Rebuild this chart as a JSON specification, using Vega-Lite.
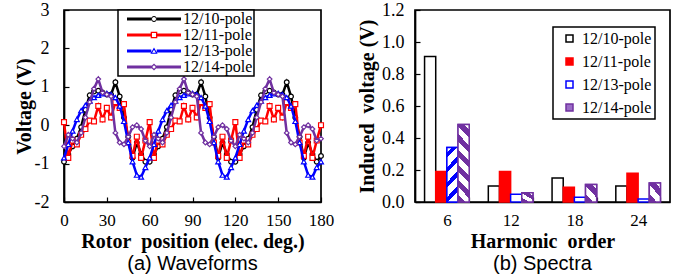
{
  "$schema": "https://vega.github.io/schema/vega-lite/v6.json",
  "padding": {"left": 13, "top": 0, "right": 0, "bottom": 0},
  "background": "white",
  "spacing": 94,
  "bounds": "flush",
  "config": {
    "view": {"stroke": "black", "strokeWidth": 1.7},
    "axis": {"domainColor": "black", "domainWidth": 1.7, "tickColor": "black", "tickWidth": 1.2, "tickSize": -5, "labelFlush": false,
      "labelFont": "Liberation Serif", "labelFontSize": 18, "labelColor": "black",
      "titleFont": "Liberation Serif", "titleFontSize": 20, "titleFontWeight": "bold", "titleColor": "black", "grid": false},
    "axisX": {"labelFontSize": 17},
    "title": {"font": "Liberation Sans", "fontSize": 20, "fontWeight": "normal", "color": "black", "orient": "bottom", "offset": 3, "anchor": "middle"},
    "legend": {"labelFont": "Liberation Serif", "labelFontSize": 16, "labelColor": "black", "strokeColor": "black", "fillColor": "white", "title": null}
  },
  "datasets": {
    "wave": [
      {"d":0,"v":-0.95,"s":"12/10-pole"},{"d":3,"v":-0.75,"s":"12/10-pole"},{"d":6,"v":-0.55,"s":"12/10-pole"},{"d":9,"v":-0.35,"s":"12/10-pole"},{"d":12,"v":-0.05,"s":"12/10-pole"},{"d":15,"v":0.4,"s":"12/10-pole"},{"d":18,"v":0.78,"s":"12/10-pole"},{"d":21,"v":0.88,"s":"12/10-pole"},{"d":24,"v":0.9,"s":"12/10-pole"},{"d":27,"v":0.85,"s":"12/10-pole"},{"d":30,"v":0.8,"s":"12/10-pole"},{"d":33,"v":0.8,"s":"12/10-pole"},{"d":36,"v":1.12,"s":"12/10-pole"},{"d":39,"v":0.75,"s":"12/10-pole"},{"d":42,"v":0.2,"s":"12/10-pole"},{"d":45,"v":-0.3,"s":"12/10-pole"},{"d":48,"v":-0.85,"s":"12/10-pole"},{"d":51,"v":-0.45,"s":"12/10-pole"},{"d":54,"v":-0.75,"s":"12/10-pole"},{"d":57,"v":-0.95,"s":"12/10-pole"},
      {"d":60,"v":-0.95,"s":"12/10-pole"},{"d":63,"v":-0.75,"s":"12/10-pole"},{"d":66,"v":-0.55,"s":"12/10-pole"},{"d":69,"v":-0.35,"s":"12/10-pole"},{"d":72,"v":-0.05,"s":"12/10-pole"},{"d":75,"v":0.4,"s":"12/10-pole"},{"d":78,"v":0.78,"s":"12/10-pole"},{"d":81,"v":0.88,"s":"12/10-pole"},{"d":84,"v":0.9,"s":"12/10-pole"},{"d":87,"v":0.85,"s":"12/10-pole"},{"d":90,"v":0.8,"s":"12/10-pole"},{"d":93,"v":0.8,"s":"12/10-pole"},{"d":96,"v":1.12,"s":"12/10-pole"},{"d":99,"v":0.75,"s":"12/10-pole"},{"d":102,"v":0.2,"s":"12/10-pole"},{"d":105,"v":-0.3,"s":"12/10-pole"},{"d":108,"v":-0.85,"s":"12/10-pole"},{"d":111,"v":-0.45,"s":"12/10-pole"},{"d":114,"v":-0.75,"s":"12/10-pole"},{"d":117,"v":-0.95,"s":"12/10-pole"},
      {"d":120,"v":-0.95,"s":"12/10-pole"},{"d":123,"v":-0.75,"s":"12/10-pole"},{"d":126,"v":-0.55,"s":"12/10-pole"},{"d":129,"v":-0.35,"s":"12/10-pole"},{"d":132,"v":-0.05,"s":"12/10-pole"},{"d":135,"v":0.4,"s":"12/10-pole"},{"d":138,"v":0.78,"s":"12/10-pole"},{"d":141,"v":0.88,"s":"12/10-pole"},{"d":144,"v":0.9,"s":"12/10-pole"},{"d":147,"v":0.85,"s":"12/10-pole"},{"d":150,"v":0.8,"s":"12/10-pole"},{"d":153,"v":0.8,"s":"12/10-pole"},{"d":156,"v":1.12,"s":"12/10-pole"},{"d":159,"v":0.75,"s":"12/10-pole"},{"d":162,"v":0.2,"s":"12/10-pole"},{"d":165,"v":-0.3,"s":"12/10-pole"},{"d":168,"v":-0.85,"s":"12/10-pole"},{"d":171,"v":-0.45,"s":"12/10-pole"},{"d":174,"v":-0.75,"s":"12/10-pole"},{"d":177,"v":-0.95,"s":"12/10-pole"},{"d":180,"v":-0.8,"s":"12/10-pole"},

      {"d":0,"v":0.08,"s":"12/11-pole"},{"d":3,"v":-0.85,"s":"12/11-pole"},{"d":6,"v":-0.4,"s":"12/11-pole"},{"d":9,"v":-0.5,"s":"12/11-pole"},{"d":12,"v":-0.25,"s":"12/11-pole"},{"d":15,"v":-0.1,"s":"12/11-pole"},{"d":18,"v":0.12,"s":"12/11-pole"},{"d":21,"v":0.1,"s":"12/11-pole"},{"d":24,"v":0.5,"s":"12/11-pole"},{"d":27,"v":0.15,"s":"12/11-pole"},{"d":30,"v":0.45,"s":"12/11-pole"},{"d":33,"v":0.2,"s":"12/11-pole"},{"d":36,"v":0.6,"s":"12/11-pole"},{"d":39,"v":0.45,"s":"12/11-pole"},{"d":42,"v":0.55,"s":"12/11-pole"},{"d":45,"v":-0.45,"s":"12/11-pole"},{"d":48,"v":-0.8,"s":"12/11-pole"},{"d":51,"v":-0.3,"s":"12/11-pole"},{"d":54,"v":-0.85,"s":"12/11-pole"},{"d":57,"v":-0.4,"s":"12/11-pole"},
      {"d":60,"v":0.08,"s":"12/11-pole"},{"d":63,"v":-0.85,"s":"12/11-pole"},{"d":66,"v":-0.4,"s":"12/11-pole"},{"d":69,"v":-0.5,"s":"12/11-pole"},{"d":72,"v":-0.25,"s":"12/11-pole"},{"d":75,"v":-0.1,"s":"12/11-pole"},{"d":78,"v":0.12,"s":"12/11-pole"},{"d":81,"v":0.1,"s":"12/11-pole"},{"d":84,"v":0.5,"s":"12/11-pole"},{"d":87,"v":0.15,"s":"12/11-pole"},{"d":90,"v":0.45,"s":"12/11-pole"},{"d":93,"v":0.2,"s":"12/11-pole"},{"d":96,"v":0.6,"s":"12/11-pole"},{"d":99,"v":0.45,"s":"12/11-pole"},{"d":102,"v":0.55,"s":"12/11-pole"},{"d":105,"v":-0.45,"s":"12/11-pole"},{"d":108,"v":-0.8,"s":"12/11-pole"},{"d":111,"v":-0.3,"s":"12/11-pole"},{"d":114,"v":-0.85,"s":"12/11-pole"},{"d":117,"v":-0.4,"s":"12/11-pole"},
      {"d":120,"v":0.08,"s":"12/11-pole"},{"d":123,"v":-0.85,"s":"12/11-pole"},{"d":126,"v":-0.4,"s":"12/11-pole"},{"d":129,"v":-0.5,"s":"12/11-pole"},{"d":132,"v":-0.25,"s":"12/11-pole"},{"d":135,"v":-0.1,"s":"12/11-pole"},{"d":138,"v":0.12,"s":"12/11-pole"},{"d":141,"v":0.1,"s":"12/11-pole"},{"d":144,"v":0.5,"s":"12/11-pole"},{"d":147,"v":0.15,"s":"12/11-pole"},{"d":150,"v":0.45,"s":"12/11-pole"},{"d":153,"v":0.2,"s":"12/11-pole"},{"d":156,"v":0.6,"s":"12/11-pole"},{"d":159,"v":0.45,"s":"12/11-pole"},{"d":162,"v":0.55,"s":"12/11-pole"},{"d":165,"v":-0.45,"s":"12/11-pole"},{"d":168,"v":-0.8,"s":"12/11-pole"},{"d":171,"v":-0.3,"s":"12/11-pole"},{"d":174,"v":-0.85,"s":"12/11-pole"},{"d":177,"v":-0.4,"s":"12/11-pole"},{"d":180,"v":0.0,"s":"12/11-pole"},

      {"d":0,"v":-0.85,"s":"12/13-pole"},{"d":3,"v":-0.5,"s":"12/13-pole"},{"d":6,"v":-0.15,"s":"12/13-pole"},{"d":9,"v":0.15,"s":"12/13-pole"},{"d":12,"v":0.38,"s":"12/13-pole"},{"d":15,"v":0.52,"s":"12/13-pole"},{"d":18,"v":0.63,"s":"12/13-pole"},{"d":21,"v":0.72,"s":"12/13-pole"},{"d":24,"v":0.78,"s":"12/13-pole"},{"d":27,"v":0.82,"s":"12/13-pole"},{"d":30,"v":0.83,"s":"12/13-pole"},{"d":33,"v":0.8,"s":"12/13-pole"},{"d":36,"v":0.72,"s":"12/13-pole"},{"d":39,"v":0.5,"s":"12/13-pole"},{"d":42,"v":0.1,"s":"12/13-pole"},{"d":45,"v":-0.45,"s":"12/13-pole"},{"d":48,"v":-0.95,"s":"12/13-pole"},{"d":51,"v":-1.3,"s":"12/13-pole"},{"d":54,"v":-1.35,"s":"12/13-pole"},{"d":57,"v":-1.1,"s":"12/13-pole"},
      {"d":60,"v":-0.85,"s":"12/13-pole"},{"d":63,"v":-0.5,"s":"12/13-pole"},{"d":66,"v":-0.15,"s":"12/13-pole"},{"d":69,"v":0.15,"s":"12/13-pole"},{"d":72,"v":0.38,"s":"12/13-pole"},{"d":75,"v":0.52,"s":"12/13-pole"},{"d":78,"v":0.63,"s":"12/13-pole"},{"d":81,"v":0.72,"s":"12/13-pole"},{"d":84,"v":0.78,"s":"12/13-pole"},{"d":87,"v":0.82,"s":"12/13-pole"},{"d":90,"v":0.83,"s":"12/13-pole"},{"d":93,"v":0.8,"s":"12/13-pole"},{"d":96,"v":0.72,"s":"12/13-pole"},{"d":99,"v":0.5,"s":"12/13-pole"},{"d":102,"v":0.1,"s":"12/13-pole"},{"d":105,"v":-0.45,"s":"12/13-pole"},{"d":108,"v":-0.95,"s":"12/13-pole"},{"d":111,"v":-1.3,"s":"12/13-pole"},{"d":114,"v":-1.35,"s":"12/13-pole"},{"d":117,"v":-1.1,"s":"12/13-pole"},
      {"d":120,"v":-0.85,"s":"12/13-pole"},{"d":123,"v":-0.5,"s":"12/13-pole"},{"d":126,"v":-0.15,"s":"12/13-pole"},{"d":129,"v":0.15,"s":"12/13-pole"},{"d":132,"v":0.38,"s":"12/13-pole"},{"d":135,"v":0.52,"s":"12/13-pole"},{"d":138,"v":0.63,"s":"12/13-pole"},{"d":141,"v":0.72,"s":"12/13-pole"},{"d":144,"v":0.78,"s":"12/13-pole"},{"d":147,"v":0.82,"s":"12/13-pole"},{"d":150,"v":0.83,"s":"12/13-pole"},{"d":153,"v":0.8,"s":"12/13-pole"},{"d":156,"v":0.72,"s":"12/13-pole"},{"d":159,"v":0.5,"s":"12/13-pole"},{"d":162,"v":0.1,"s":"12/13-pole"},{"d":165,"v":-0.45,"s":"12/13-pole"},{"d":168,"v":-0.95,"s":"12/13-pole"},{"d":171,"v":-1.3,"s":"12/13-pole"},{"d":174,"v":-1.35,"s":"12/13-pole"},{"d":177,"v":-1.1,"s":"12/13-pole"},{"d":180,"v":-0.95,"s":"12/13-pole"},

      {"d":0,"v":-0.55,"s":"12/14-pole"},{"d":3,"v":-0.25,"s":"12/14-pole"},{"d":6,"v":-0.35,"s":"12/14-pole"},{"d":9,"v":-0.45,"s":"12/14-pole"},{"d":12,"v":-0.2,"s":"12/14-pole"},{"d":15,"v":0.2,"s":"12/14-pole"},{"d":18,"v":0.6,"s":"12/14-pole"},{"d":21,"v":0.95,"s":"12/14-pole"},{"d":24,"v":1.2,"s":"12/14-pole"},{"d":27,"v":0.85,"s":"12/14-pole"},{"d":30,"v":0.8,"s":"12/14-pole"},{"d":33,"v":0.75,"s":"12/14-pole"},{"d":36,"v":-0.2,"s":"12/14-pole"},{"d":39,"v":-0.45,"s":"12/14-pole"},{"d":42,"v":-0.5,"s":"12/14-pole"},{"d":45,"v":-0.3,"s":"12/14-pole"},{"d":48,"v":-0.05,"s":"12/14-pole"},{"d":51,"v":0.0,"s":"12/14-pole"},{"d":54,"v":-0.1,"s":"12/14-pole"},{"d":57,"v":-0.4,"s":"12/14-pole"},
      {"d":60,"v":-0.55,"s":"12/14-pole"},{"d":63,"v":-0.25,"s":"12/14-pole"},{"d":66,"v":-0.35,"s":"12/14-pole"},{"d":69,"v":-0.45,"s":"12/14-pole"},{"d":72,"v":-0.2,"s":"12/14-pole"},{"d":75,"v":0.2,"s":"12/14-pole"},{"d":78,"v":0.6,"s":"12/14-pole"},{"d":81,"v":0.95,"s":"12/14-pole"},{"d":84,"v":1.2,"s":"12/14-pole"},{"d":87,"v":0.85,"s":"12/14-pole"},{"d":90,"v":0.8,"s":"12/14-pole"},{"d":93,"v":0.75,"s":"12/14-pole"},{"d":96,"v":-0.2,"s":"12/14-pole"},{"d":99,"v":-0.45,"s":"12/14-pole"},{"d":102,"v":-0.5,"s":"12/14-pole"},{"d":105,"v":-0.3,"s":"12/14-pole"},{"d":108,"v":-0.05,"s":"12/14-pole"},{"d":111,"v":0.0,"s":"12/14-pole"},{"d":114,"v":-0.1,"s":"12/14-pole"},{"d":117,"v":-0.4,"s":"12/14-pole"},
      {"d":120,"v":-0.55,"s":"12/14-pole"},{"d":123,"v":-0.25,"s":"12/14-pole"},{"d":126,"v":-0.35,"s":"12/14-pole"},{"d":129,"v":-0.45,"s":"12/14-pole"},{"d":132,"v":-0.2,"s":"12/14-pole"},{"d":135,"v":0.2,"s":"12/14-pole"},{"d":138,"v":0.6,"s":"12/14-pole"},{"d":141,"v":0.95,"s":"12/14-pole"},{"d":144,"v":1.2,"s":"12/14-pole"},{"d":147,"v":0.85,"s":"12/14-pole"},{"d":150,"v":0.8,"s":"12/14-pole"},{"d":153,"v":0.75,"s":"12/14-pole"},{"d":156,"v":-0.2,"s":"12/14-pole"},{"d":159,"v":-0.45,"s":"12/14-pole"},{"d":162,"v":-0.5,"s":"12/14-pole"},{"d":165,"v":-0.3,"s":"12/14-pole"},{"d":168,"v":-0.05,"s":"12/14-pole"},{"d":171,"v":0.0,"s":"12/14-pole"},{"d":174,"v":-0.1,"s":"12/14-pole"},{"d":177,"v":-0.4,"s":"12/14-pole"},{"d":180,"v":-0.35,"s":"12/14-pole"}
    ],
    "spec": [
      {"h":6,"s":"12/10-pole","v":0.91},{"h":6,"s":"12/11-pole","v":0.19},{"h":6,"s":"12/13-pole","v":0.34},{"h":6,"s":"12/14-pole","v":0.485},
      {"h":12,"s":"12/10-pole","v":0.10},{"h":12,"s":"12/11-pole","v":0.19},{"h":12,"s":"12/13-pole","v":0.048},{"h":12,"s":"12/14-pole","v":0.058},
      {"h":18,"s":"12/10-pole","v":0.15},{"h":18,"s":"12/11-pole","v":0.092},{"h":18,"s":"12/13-pole","v":0.029},{"h":18,"s":"12/14-pole","v":0.11},
      {"h":24,"s":"12/10-pole","v":0.10},{"h":24,"s":"12/11-pole","v":0.18},{"h":24,"s":"12/13-pole","v":0.019},{"h":24,"s":"12/14-pole","v":0.119}
    ]
  },
  "resolve": {
    "scale": {"color": "independent", "shape": "independent", "fill": "independent", "stroke": "independent"},
    "legend": {"color": "independent", "shape": "independent", "fill": "independent", "stroke": "independent"}
  },
  "hconcat": [
    {
      "width": 257, "height": 192,
      "title": {"text": "(a) Waveforms"},
      "data": {"name": "wave"},
      "encoding": {
        "x": {"field": "d", "type": "quantitative", "scale": {"domain": [0, 180], "nice": false},
          "axis": {"values": [0, 30, 60, 90, 120, 150, 180], "title": "Rotor\u00a0 position (elec. deg.)", "labelPadding": 15, "titlePadding": 3}},
        "y": {"field": "v", "type": "quantitative", "scale": {"domain": [-2, 3], "nice": false},
          "axis": {"values": [-2, -1, 0, 1, 2, 3], "labelExpr": "'' + datum.value", "title": "Voltage (V)", "labelPadding": 20, "titlePadding": 0}}
      },
      "layer": [
        {"transform": [{"filter": "datum.s == '12/10-pole'"}],
         "mark": {"type": "line", "strokeWidth": 2.5, "color": "#000000", "point": {"shape": "circle", "filled": false, "fill": "white", "stroke": "#000000", "size": 22, "strokeWidth": 1.2}},
         "encoding": {}},
        {"transform": [{"filter": "datum.s == '12/11-pole'"}],
         "mark": {"type": "line", "strokeWidth": 2.5, "color": "#ff0000", "point": {"shape": "square", "filled": false, "fill": "white", "stroke": "#ff0000", "size": 24, "strokeWidth": 1.2}},
         "encoding": {}},
        {"transform": [{"filter": "datum.s == '12/13-pole'"}],
         "mark": {"type": "line", "strokeWidth": 2.5, "color": "#0000ff", "point": {"shape": "triangle-up", "filled": false, "fill": "white", "stroke": "#0000ff", "size": 24, "strokeWidth": 1.2}},
         "encoding": {}},
        {"transform": [{"filter": "datum.s == '12/14-pole'"}],
         "mark": {"type": "line", "strokeWidth": 2.5, "color": "#7030a0", "point": {"shape": "diamond", "filled": false, "fill": "white", "stroke": "#7030a0", "size": 22, "strokeWidth": 1.2}},
         "encoding": {}},
        {"mark": {"type": "point", "filled": true, "opacity": 0},
         "encoding": {
           "color": {"field": "s", "type": "nominal",
             "scale": {"domain": ["12/10-pole", "12/11-pole", "12/13-pole", "12/14-pole"], "range": ["#000000", "#ff0000", "#0000ff", "#7030a0"]},
             "legend": {"orient": "none", "legendX": 54, "legendY": 0, "padding": 1, "rowPadding": -0.5, "symbolSize": 144, "symbolStrokeWidth": 0, "symbolOffset": 27, "labelOffset": 21, "labelExpr": "datum.label + '\u00a0\u00a0'", "symbolOpacity": 1,
               "encode": {"symbols": {"update": {"opacity": {"value": 1}}}, "legend": {"update": {"strokeWidth": {"value": 1.5}}}}}},
           "shape": {"field": "s", "type": "nominal",
             "scale": {"domain": ["12/10-pole", "12/11-pole", "12/13-pole", "12/14-pole"],
               "range": [
                 "M-4.5,-0.25H-0.5V0.25H-4.5Z M0.5,-0.25H4.5V0.25H0.5Z M0.5,0A0.5,0.5,0,1,1,-0.5,0A0.5,0.5,0,1,1,0.5,0Z M0.33,0A0.33,0.33,0,1,0,-0.33,0A0.33,0.33,0,1,0,0.33,0Z",
                 "M-4.5,-0.25H-0.55V0.25H-4.5Z M0.55,-0.25H4.5V0.25H0.55Z M-0.55,-0.55H0.55V0.55H-0.55Z M-0.33,-0.33V0.33H0.33V-0.33Z",
                 "M-4.5,-0.25H-0.45V0.25H-4.5Z M0.45,-0.25H4.5V0.25H0.45Z M0,-0.6L0.6,0.45H-0.6Z M0,-0.22L-0.3,0.3H0.3Z",
                 "M-4.5,-0.25H-0.4V0.25H-4.5Z M0.4,-0.25H4.5V0.25H0.4Z M0,-0.6L0.6,0L0,0.6L-0.6,0Z M0,-0.3L-0.3,0L0,0.3L0.3,0Z"
               ]},
             "legend": {"orient": "none", "legendX": 54, "legendY": 0, "padding": 1, "rowPadding": -0.5, "symbolSize": 144, "symbolStrokeWidth": 0, "symbolOffset": 27, "labelOffset": 21, "labelExpr": "datum.label + '\u00a0\u00a0'", "symbolOpacity": 1,
               "encode": {"symbols": {"update": {"opacity": {"value": 1}}}, "legend": {"update": {"strokeWidth": {"value": 1.5}}}}}}
         }}
      ]
    },
    {
      "width": 255, "height": 192,
      "title": {"text": "(b) Spectra"},
      "data": {"name": "spec"},
      "encoding": {
        "x": {"field": "h", "type": "ordinal", "scale": {"paddingInner": 0.3, "paddingOuter": 0.15},
          "axis": {"labelAngle": 0, "tickBand": "extent", "title": "Harmonic\u00a0 order", "labelPadding": 15, "titlePadding": 3}},
        "xOffset": {"field": "s", "type": "nominal", "scale": {"domain": ["12/10-pole", "12/11-pole", "12/13-pole", "12/14-pole"]}},
        "y": {"field": "v", "type": "quantitative", "scale": {"domain": [0, 1.2], "nice": false},
          "axis": {"values": [0, 0.2, 0.4, 0.6, 0.8, 1.0, 1.2], "format": ".1f", "title": "Induced\u00a0 voltage (V)", "labelPadding": 16, "titlePadding": 4}}
      },
      "layer": [
        {"mark": {"type": "bar", "strokeWidth": 1.5},
         "encoding": {
           "fill": {"field": "s", "type": "nominal",
             "scale": {"domain": ["12/10-pole", "12/11-pole", "12/13-pole", "12/14-pole"], "range": ["#ffffff", "#ff0000", "#ffffff", "#9a6cc6"]},
             "legend": {"orient": "none", "legendX": 138, "legendY": 17, "padding": 3.5, "rowPadding": 7, "symbolType": "square", "symbolSize": 49, "symbolStrokeWidth": 1.5, "symbolOffset": 5, "labelOffset": 4.5, "labelExpr": "datum.label + '\u00a0\u00a0\u00a0\u00a0\u00a0'",
               "encode": {"legend": {"update": {"strokeWidth": {"value": 1.5}}}}}},
           "stroke": {"field": "s", "type": "nominal",
             "scale": {"domain": ["12/10-pole", "12/11-pole", "12/13-pole", "12/14-pole"], "range": ["#000000", "#ff0000", "#0000ff", "#7030a0"]},
             "legend": {"orient": "none", "legendX": 138, "legendY": 17, "padding": 3.5, "rowPadding": 7, "symbolType": "square", "symbolSize": 49, "symbolStrokeWidth": 1.5, "symbolOffset": 5, "labelOffset": 4.5, "labelExpr": "datum.label + '\u00a0\u00a0\u00a0\u00a0\u00a0'",
               "encode": {"legend": {"update": {"strokeWidth": {"value": 1.5}}}}}}
         }},
        {"transform": [{"filter": "datum.s == '12/13-pole' && datum.h == 6"}],
         "mark": {"type": "bar", "strokeWidth": 1.5, "stroke": "#0000ff",
           "fill": {"gradient": "linear", "x1": 0, "y1": 0, "x2": 0.2405, "y2": 1.158, "stops": [
             {"offset": 0, "color": "#ffffff"}, {"offset": 0.07, "color": "#ffffff"}, {"offset": 0.07, "color": "#0000ff"}, {"offset": 0.16, "color": "#0000ff"},
             {"offset": 0.16, "color": "#ffffff"}, {"offset": 0.298, "color": "#ffffff"}, {"offset": 0.298, "color": "#0000ff"}, {"offset": 0.388, "color": "#0000ff"},
             {"offset": 0.388, "color": "#ffffff"}, {"offset": 0.526, "color": "#ffffff"}, {"offset": 0.526, "color": "#0000ff"}, {"offset": 0.616, "color": "#0000ff"},
             {"offset": 0.616, "color": "#ffffff"}, {"offset": 0.754, "color": "#ffffff"}, {"offset": 0.754, "color": "#0000ff"}, {"offset": 0.844, "color": "#0000ff"},
             {"offset": 0.844, "color": "#ffffff"}, {"offset": 0.982, "color": "#ffffff"}, {"offset": 0.982, "color": "#0000ff"}, {"offset": 1, "color": "#0000ff"}]}},
         "encoding": {}},
        {"transform": [{"filter": "datum.s == '12/14-pole' && datum.h == 6"}],
         "mark": {"type": "bar", "strokeWidth": 1.5, "stroke": "#7030a0",
           "fill": {"gradient": "linear", "x1": 0, "y1": 1, "x2": 0.165, "y2": -0.1227, "stops": [
             {"offset": 0, "color": "#7030a0"}, {"offset": 0.085, "color": "#7030a0"}, {"offset": 0.085, "color": "#ffffff"}, {"offset": 0.17, "color": "#ffffff"},
             {"offset": 0.17, "color": "#7030a0"}, {"offset": 0.255, "color": "#7030a0"}, {"offset": 0.255, "color": "#ffffff"}, {"offset": 0.34, "color": "#ffffff"},
             {"offset": 0.34, "color": "#7030a0"}, {"offset": 0.425, "color": "#7030a0"}, {"offset": 0.425, "color": "#ffffff"}, {"offset": 0.51, "color": "#ffffff"},
             {"offset": 0.51, "color": "#7030a0"}, {"offset": 0.595, "color": "#7030a0"}, {"offset": 0.595, "color": "#ffffff"}, {"offset": 0.68, "color": "#ffffff"},
             {"offset": 0.68, "color": "#7030a0"}, {"offset": 0.765, "color": "#7030a0"}, {"offset": 0.765, "color": "#ffffff"}, {"offset": 0.85, "color": "#ffffff"},
             {"offset": 0.85, "color": "#7030a0"}, {"offset": 0.935, "color": "#7030a0"}, {"offset": 0.935, "color": "#ffffff"}, {"offset": 1, "color": "#ffffff"}]}},
         "encoding": {}},
        {"transform": [{"filter": "datum.s == '12/14-pole' && datum.h != 6"}],
         "mark": {"type": "bar", "strokeWidth": 1.5, "stroke": "#7030a0",
           "fill": {"gradient": "linear", "x1": 0, "y1": 1, "x2": 0.804, "y2": -0.139, "stops": [
             {"offset": 0, "color": "#7030a0"}, {"offset": 0.275, "color": "#7030a0"}, {"offset": 0.275, "color": "#ffffff"}, {"offset": 0.55, "color": "#ffffff"},
             {"offset": 0.55, "color": "#7030a0"}, {"offset": 0.825, "color": "#7030a0"}, {"offset": 0.825, "color": "#ffffff"}, {"offset": 1, "color": "#ffffff"}]}},
         "encoding": {}}
      ]
    }
  ]
}
